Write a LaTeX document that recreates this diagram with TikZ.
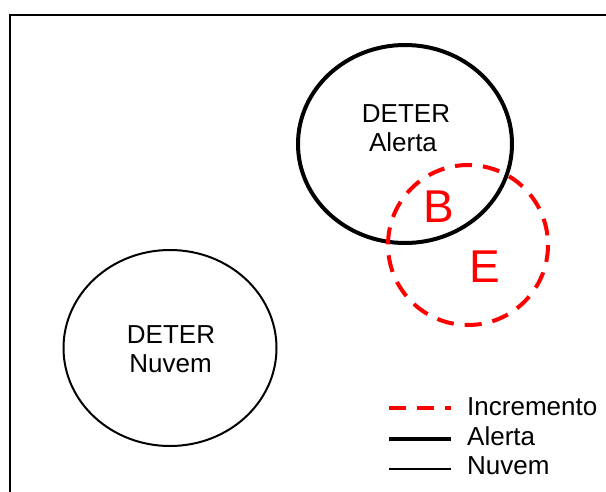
\documentclass[tikz,border=0pt]{standalone}
\usepackage{fontspec}
\setmainfont{Liberation Sans}
\begin{document}
\begin{tikzpicture}[x=1pt,y=-1pt,
  lbl/.style={anchor=base,inner sep=0pt,font=\fontsize{26}{30}\selectfont},
  big/.style={inner sep=0pt,text=red,font=\fontsize{46}{50}\selectfont},
  alertline/.style={line width=4pt,draw=black},
  nuvemline/.style={line width=2pt,draw=black},
  incline/.style={line width=4pt,draw=red,dash pattern=on 17pt off 11pt},
  frameline/.style={line width=2pt,draw=black}]
\useasboundingbox (0,0) rectangle (606,491);
% frame (cut off at right and bottom)
\draw[frameline] (10,500) -- (10,15) -- (620,15);
% circles
\draw[nuvemline] (170,348) ellipse [x radius=106.5, y radius=98];
\draw[alertline] (405,144) ellipse [x radius=107, y radius=99];
\draw[incline] (468,245) circle [radius=80];
% labels
\node[lbl] (d1) at (406,122) {DETER};
\node[lbl] (a1) at (403,151) {Alerta};
\node[lbl] (d2) at (171,343) {DETER};
\node[lbl] (n2) at (170.5,372) {Nuvem};
\node[big] (b) at (439,207) {B};
\node[big] (e) at (485,267) {E};
% legend
\coordinate (l1a) at (389,408); \coordinate (l1b) at (451,408);
\coordinate (l2a) at (389,439); \coordinate (l2b) at (451,439);
\coordinate (l3a) at (389,469); \coordinate (l3b) at (451,469);
\draw[incline] (l1a) -- (l1b);
\draw[alertline] (l2a) -- (l2b);
\draw[nuvemline] (l3a) -- (l3b);
\node[lbl,anchor=base west] (t1) at (467,415) {Incremento};
\node[lbl,anchor=base west] (t2) at (467,445) {Alerta};
\node[lbl,anchor=base west] (t3) at (467,474) {Nuvem};
\end{tikzpicture}
\end{document}
